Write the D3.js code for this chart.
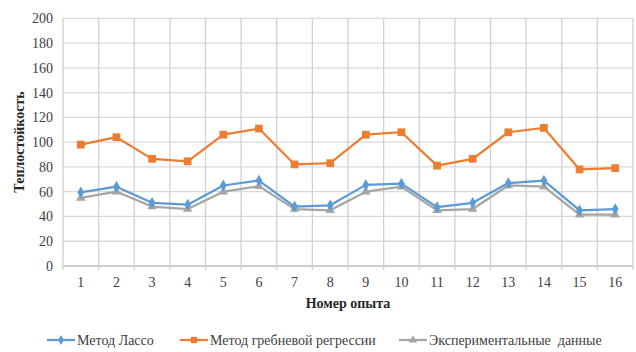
<!DOCTYPE html>
<html><head><meta charset="utf-8">
<script src="https://cdn.jsdelivr.net/npm/d3@7"></script>
<style>body{margin:0;background:#fff}svg{display:block}svg text{font-family:"Liberation Serif","Times New Roman",serif !important}</style>
</head><body>
<svg id="c" width="636" height="352"></svg>
<script>
const categories = ["1","2","3","4","5","6","7","8","9","10","11","12","13","14","15","16"];
const lassoValues = [59.5,64,51,49.5,65,69,48,49,65.5,66.5,47.5,51,67,69,45,46];
const ridgeValues = [98,104,86.5,84.5,106,111,82,83,106,108,81,86.5,108,111.5,78,79];
const expValues = [55,60,48,46,60,64.5,46,45,60,64,45,46,65,64,41.5,41.5];
const yTicks = [0,20,40,60,80,100,120,140,160,180,200];
const seriesNames = ["Метод Лассо","Метод гребневой регрессии","Экспериментальные  данные"];

const svg = d3.select("#c");
const L=63, R=633, T=18.3, B=266;
const x = d3.scaleBand().domain(categories).range([L,R]);
const y = d3.scaleLinear().domain([0,200]).range([B,T]);

// grid
const g = svg.append("g");
g.selectAll("line.h").data(yTicks).join("line")
  .attr("x1",L).attr("x2",R).attr("y1",d=>y(d)).attr("y2",d=>y(d))
  .attr("stroke", d=>d===0?"#bfbfbf":"#d9d9d9").attr("stroke-width",1.3);
const bounds = categories.map(c=>x(c)).concat([R]);
g.selectAll("line.v").data(bounds).join("line")
  .attr("x1",d=>d).attr("x2",d=>d).attr("y1",T).attr("y2",B+4)
  .attr("stroke","#d0d0d0").attr("stroke-width",1.3);

// y axis labels
const yAxis = d3.axisLeft(y).tickValues(yTicks).tickSize(0).tickPadding(10);
const ya = svg.append("g").attr("transform",`translate(${L},0)`).call(yAxis);
ya.select(".domain").remove();
ya.selectAll("text").attr("font-size",14).attr("fill","#404040");

// x axis labels
const xAxis = d3.axisBottom(x).tickSize(0).tickPadding(11);
const xa = svg.append("g").attr("transform",`translate(0,${B})`).call(xAxis);
xa.select(".domain").remove();
xa.selectAll("text").attr("font-size",14).attr("fill","#404040");

// titles
svg.append("text").attr("transform","translate(24,142) rotate(-90)").attr("text-anchor","middle")
  .attr("font-size",14).attr("font-weight","bold").attr("fill","#262626").text("Теплостойкость");
svg.append("text").attr("x",(L+R)/2).attr("y",307.5).attr("text-anchor","middle")
  .attr("font-size",14).attr("font-weight","bold").attr("fill","#262626").text("Номер опыта");

const series = [
  {name:seriesNames[2], values:expValues, color:"#a5a5a5", sym:d3.symbolTriangle, size:40},
  {name:seriesNames[0], values:lassoValues, color:"#5b9bd5", sym:d3.symbolDiamond, size:40},
  {name:seriesNames[1], values:ridgeValues, color:"#ed7d31", sym:d3.symbolSquare, size:60}
];
const cx = c => x(c)+x.bandwidth()/2;
const line = d3.line().x((d,i)=>cx(categories[i])).y(d=>y(d));
series.forEach(s=>{
  svg.append("path").datum(s.values).attr("d",line).attr("fill","none")
    .attr("stroke",s.color).attr("stroke-width",2.25).attr("stroke-linejoin","round");
  svg.selectAll(null).data(s.values).join("path")
    .attr("d",d3.symbol().type(s.sym).size(s.size))
    .attr("transform",(d,i)=>`translate(${cx(categories[i])},${y(d)})`)
    .attr("fill",s.color);
});

// legend
const leg = [
  {name:seriesNames[0], color:"#5b9bd5", sym:d3.symbolDiamond, size:30, x0:47},
  {name:seriesNames[1], color:"#ed7d31", sym:d3.symbolSquare, size:40, x0:180},
  {name:seriesNames[2], color:"#a5a5a5", sym:d3.symbolTriangle, size:30, x0:399}
];
const ly = 340;
leg.forEach(l=>{
  svg.append("line").attr("x1",l.x0).attr("x2",l.x0+28).attr("y1",ly).attr("y2",ly)
    .attr("stroke",l.color).attr("stroke-width",2.25);
  svg.append("path").attr("d",d3.symbol().type(l.sym).size(l.size)())
    .attr("transform",`translate(${l.x0+14},${ly})`).attr("fill",l.color);
  svg.append("text").attr("x",l.x0+30).attr("y",ly+5)
    .attr("font-size",14).attr("fill","#404040").style("white-space","pre").text(l.name);
});
</script>
</body></html>
